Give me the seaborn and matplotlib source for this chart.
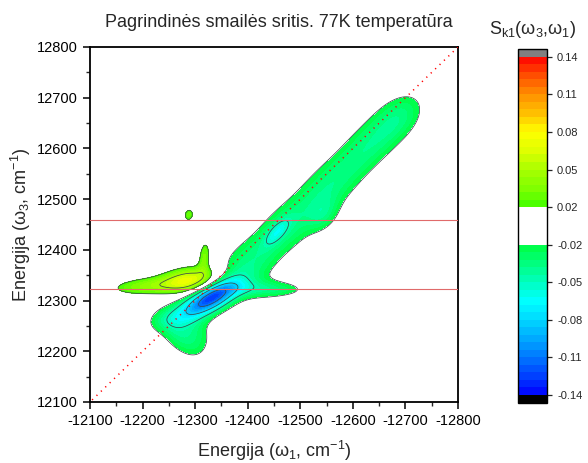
import numpy as np
import seaborn as sns
import matplotlib.pyplot as plt
from matplotlib.colors import LinearSegmentedColormap
from matplotlib.ticker import AutoMinorLocator

# peak components (w1 = -x, w3 = y, both cm-1)
comp_w1 = [12330, 12440, 12295, 12250, 12258, 12395, 12475, 12555, 12630, 12690, 12455, 12545,
           12290, 12200, 12318, 12288]
comp_w3 = [12305, 12322, 12232, 12268, 12238, 12365, 12445, 12525, 12605, 12665, 12435, 12468,
           12340, 12328, 12388, 12469]
comp_amp = [-0.120, -0.032, -0.030, -0.026, -0.018, -0.032, -0.030, -0.030, -0.030, -0.028, -0.030, -0.018,
            0.070, 0.034, 0.034, 0.028]
comp_s_along = [40, 55, 40, 35, 28, 50, 55, 55, 55, 45, 25, 25, 40, 45, 22, 11]
comp_s_across = [18, 13, 28, 18, 20, 34, 34, 34, 32, 30, 11, 18, 17, 12, 8, 8]
comp_angle = [30, 0, 105, 20, 125, 45, 45, 45, 45, 45, 50, 60, 8, 4, 85, 80]

hline_w3 = [12323, 12458]
diag_w1 = [12100, 12800]

x_ticks = [-12100, -12200, -12300, -12400, -12500, -12600, -12700, -12800]
y_ticks = [12100, 12200, 12300, 12400, 12500, 12600, 12700, 12800]
cbar_ticks = [-0.14, -0.11, -0.08, -0.05, -0.02, 0.02, 0.05, 0.08, 0.11, 0.14]
line_levels = [-0.11, -0.08, -0.05, -0.02, 0.02, 0.05]

# colour anchors of the colour scale
neg_vals = [-0.14, -0.125, -0.11, -0.095, -0.08, -0.065, -0.05, -0.035, -0.02]
neg_cols = ['#0000ff', '#0040ff', '#0078ff', '#00a8ff', '#00d8ff', '#00ffff', '#00ffc0', '#00ff80', '#00ff40']
pos_vals = [0.02, 0.035, 0.05, 0.065, 0.08, 0.095, 0.11, 0.125, 0.14]
pos_cols = ['#40ff00', '#80ff00', '#a8ff00', '#e0ff00', '#ffff00', '#ffc000', '#ff9000', '#ff5000', '#ff0000']

sns.set_theme(style='ticks')
plt.rcParams['font.family'] = ['Liberation Sans', 'DejaVu Sans']
plt.rcParams['axes.unicode_minus'] = False

# field
w1 = np.linspace(12100, 12800, 401)
w3 = np.linspace(12100, 12800, 401)
U, Y = np.meshgrid(w1, w3)
Z = np.zeros_like(U)
for u0, y0, a, sa, sc, ang in zip(comp_w1, comp_w3, comp_amp, comp_s_along, comp_s_across, comp_angle):
    t = np.deg2rad(ang)
    du, dy = U - u0, Y - y0
    p = du * np.cos(t) + dy * np.sin(t)
    q = -du * np.sin(t) + dy * np.cos(t)
    Z += a * np.exp(-0.5 * (p / sa) ** 2 - 0.5 * (q / sc) ** 2)

# levels: 20 bands each side, 5 white bands in the middle
levels = np.unique(np.round(np.concatenate([
    np.linspace(-0.14, -0.02, 21), np.linspace(-0.02, 0.02, 6), np.linspace(0.02, 0.14, 21)]), 4))
mids = (levels[:-1] + levels[1:]) / 2


def make_cmap(name, vals, cols):
    pos = np.round((np.array(vals) - vals[0]) / (vals[-1] - vals[0]), 6)
    pos[0], pos[-1] = 0.0, 1.0
    return LinearSegmentedColormap.from_list(name, list(zip(pos, cols)))


ncm = make_cmap('neg', neg_vals, neg_cols)
pcm = make_cmap('pos', pos_vals, pos_cols)
band_cols = []
for m in mids:
    if m < -0.02:
        band_cols.append(ncm((m + 0.14) / 0.12))
    elif m > 0.02:
        band_cols.append(pcm((m - 0.02) / 0.12))
    else:
        band_cols.append('white')

fig = plt.figure(figsize=(5.88, 4.63), dpi=100)
ax = fig.add_axes([0.1531, 0.1318, 0.6259, 0.7667])
cax = fig.add_axes([0.8815, 0.1296, 0.0493, 0.7652])

cs = ax.contourf(-U, Y, Z, levels=levels, colors=band_cols, extend='both')
cs.cmap.set_under('black')
cs.cmap.set_over('#808080')
cs.changed()
ax.contour(-U, Y, Z, levels=line_levels, colors='#3a4a4a', linewidths=0.55, linestyles='solid')

for h in hline_w3:
    ax.axhline(h, color='#e06a6a', lw=0.8, zorder=3)
diag = np.array(diag_w1)
sns.lineplot(x=-diag, y=diag, ax=ax, color='red', lw=1.1, linestyle=(0, (0.8, 3.2)), zorder=4)

ax.set_xlim(-12100, -12800)
ax.set_ylim(12100, 12800)
ax.set_xticks(x_ticks)
ax.set_yticks(y_ticks)
ax.xaxis.set_minor_locator(AutoMinorLocator(2))
ax.yaxis.set_minor_locator(AutoMinorLocator(2))
ax.tick_params(which='major', direction='out', length=5, width=1.1, labelsize=10.5, colors='black')
ax.tick_params(which='minor', direction='out', length=3, width=1.0)
for s in ax.spines.values():
    s.set_linewidth(1.3)
    s.set_color('black')

ax.set_xlabel('Energija (ω$_\\mathregular{1}$, cm$^\\mathregular{-1}$)', fontsize=13)
ax.set_ylabel('Energija (ω$_\\mathregular{3}$, cm$^\\mathregular{-1}$)', fontsize=13)
ax.xaxis.set_label_coords(0.5, -0.105)
ax.yaxis.set_label_coords(-0.155, 0.5)

fig.text(0.474, 0.951, 'Pagrindinės smailės sritis. 77K temperatūra', ha='center', va='center', fontsize=13)

cb = fig.colorbar(cs, cax=cax, ticks=cbar_ticks, spacing='uniform', extendrect=True, extendfrac=0.024)
cb.ax.set_yticklabels([f'{t:.2f}' for t in cbar_ticks])
cb.ax.tick_params(labelsize=8, length=3.5, width=0.9, direction='out')
cb.outline.set_linewidth(1.0)
cb.outline.set_edgecolor('black')
fig.text(0.906, 0.937, 'S$_\\mathregular{k1}$(ω$_\\mathregular{3}$,ω$_\\mathregular{1}$)', ha='center', va='center', fontsize=13)

fig.savefig('out.png', dpi=100)
